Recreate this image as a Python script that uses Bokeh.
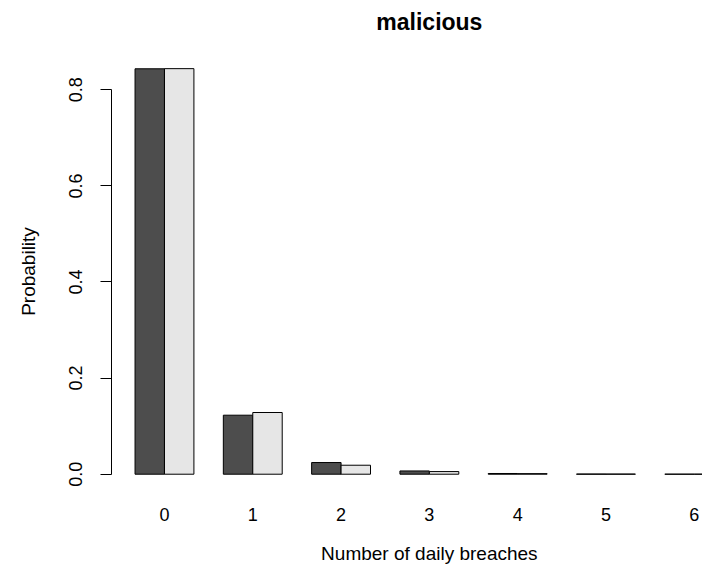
from bokeh.plotting import figure
from bokeh.models import ColumnDataSource, Range1d, FixedTicker, LinearAxis, NumeralTickFormatter
from bokeh.embed import file_html
from bokeh.resources import INLINE

# Daily breach counts and the two probability series (observed / fitted)
categories = ["0", "1", "2", "3", "4", "5", "6"]
observed = [0.8437, 0.1228, 0.0243, 0.0068, 0.0015, 0.0004, 0.0001]
fitted = [0.8440, 0.1284, 0.0187, 0.0055, 0.0012, 0.0003, 0.0001]
y_ticks = [0.0, 0.2, 0.4, 0.6, 0.8]
title_text = "malicious"
x_caption = "Number of daily breaches"

FONT = "Liberation Sans"

# Grouped bar layout: two unit-wide bars per group, one unit of space between groups
group_start = [1 + 3 * i for i in range(len(categories))]
centers = [s + 1 for s in group_start]
region_mid = (0.2 + 21.8) / 2  # middle of the full bar region

src_obs = ColumnDataSource(dict(x=[s + 0.5 for s in group_start], top=observed))
src_fit = ColumnDataSource(dict(x=[s + 1.5 for s in group_start], top=fitted))

p = figure(
    width=702, height=570,
    x_range=Range1d(0.2, 20.28),
    y_range=Range1d(-0.0339, 0.8776),
    output_backend="svg", toolbar_location=None,
    min_border_left=111, min_border_right=0,
    min_border_top=52, min_border_bottom=80,
)
p.outline_line_color = None
p.xgrid.visible = False
p.ygrid.visible = False
p.background_fill_color = "white"
p.border_fill_color = "white"

p.vbar(x="x", top="top", bottom=0, width=1, source=src_obs,
       fill_color="#4D4D4D", line_color="#000000", line_width=1)
p.vbar(x="x", top="top", bottom=0, width=1, source=src_fit,
       fill_color="#E6E6E6", line_color="#000000", line_width=1)


def label_only_axis(ax, ticks, overrides, size, style, standoff, tick_out=0):
    ax.ticker = FixedTicker(ticks=ticks)
    ax.major_label_overrides = overrides
    ax.axis_line_color = None
    ax.major_tick_line_color = None
    ax.minor_tick_line_color = None
    ax.major_tick_out = tick_out
    ax.major_tick_in = 0
    ax.major_label_standoff = standoff
    ax.major_label_text_font = FONT
    ax.major_label_text_font_size = size
    ax.major_label_text_font_style = style
    ax.major_label_text_color = "#000000"


# x axis: category labels only, no line or ticks
label_only_axis(p.xaxis[0], centers,
                {c: lab for c, lab in zip(centers, categories)},
                "18px", "normal", 11, tick_out=6)

# caption under the category labels, centred on the bar region
caption_axis = LinearAxis()
label_only_axis(caption_axis, [region_mid], {region_mid: x_caption},
                "19px", "normal", 19)
p.add_layout(caption_axis, "below")

# bold title above the bars, centred on the bar region
title_axis = LinearAxis()
label_only_axis(title_axis, [region_mid], {region_mid: title_text},
                "23px", "bold", 18)
p.add_layout(title_axis, "above")

# y axis restricted to the tick span
ya = p.yaxis[0]
ya.ticker = FixedTicker(ticks=y_ticks)
ya.formatter = NumeralTickFormatter(format="0.0")
ya.bounds = (0, 0.8)
ya.major_label_orientation = "vertical"
ya.major_tick_out = 11
ya.major_tick_in = 0
ya.minor_tick_line_color = None
ya.axis_line_color = "#000000"
ya.major_tick_line_color = "#000000"
ya.major_label_standoff = 18
ya.major_label_text_font = FONT
ya.major_label_text_font_size = "18px"
ya.major_label_text_color = "#000000"
ya.axis_label = "Probability"
ya.axis_label_standoff = 28
ya.axis_label_text_font = FONT
ya.axis_label_text_font_size = "19px"
ya.axis_label_text_font_style = "normal"
ya.axis_label_text_color = "#000000"

open("out.html", "w").write(file_html(p, INLINE))
